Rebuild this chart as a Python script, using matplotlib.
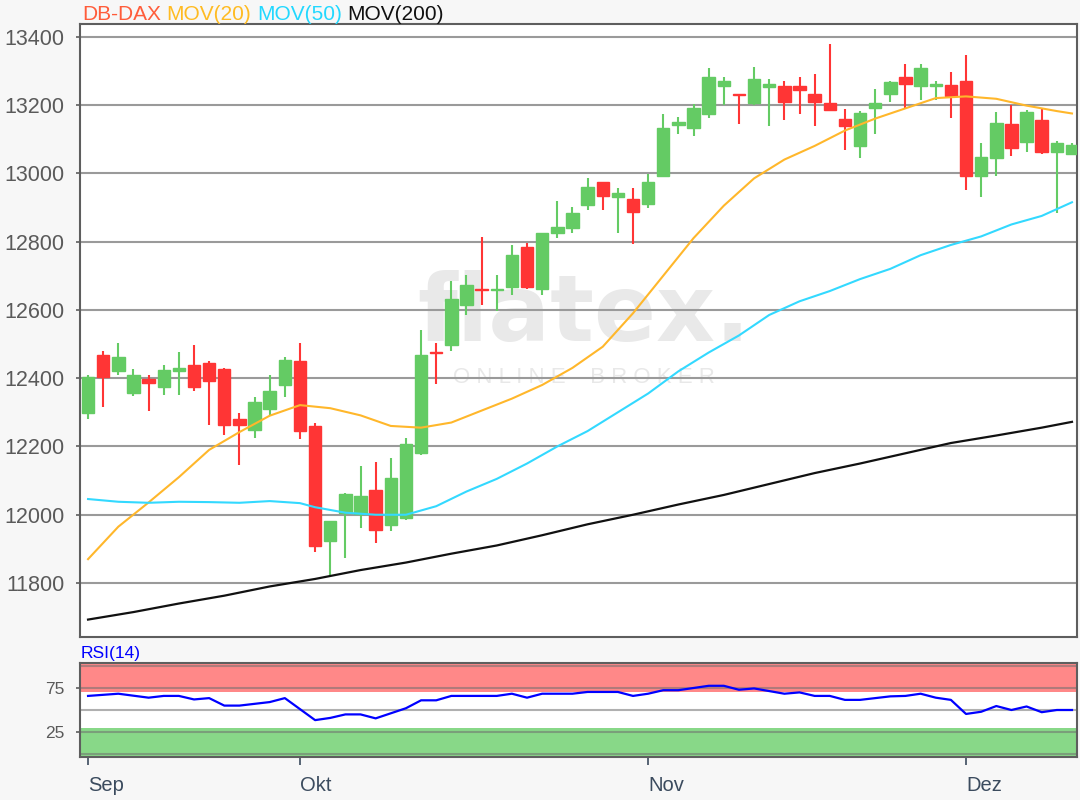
import matplotlib

matplotlib.use("Agg")
import matplotlib.pyplot as plt  # noqa: E402

plt.rcParams["font.family"] = ["Liberation Sans", "DejaVu Sans"]

# ---------------------------------------------------------------------------
# Data (one entry per trading day)
# ---------------------------------------------------------------------------

opens = [
    12299, 12467, 12422, 12356, 12397, 12375, 12422, 12438, 12444, 12426,
    12279, 12248, 12309, 12380, 12449, 12261, 11922, 12005, 12003, 12072,
    11969, 11991, 12180, 12478, 12497, 12615, 12660, 12659, 12668, 12784,
    12662, 12826, 12840, 12908, 12973, 12929, 12926, 12909, 12991, 13141,
    13132, 13174, 13256, 13231, 13207, 13253, 13254, 13254, 13231, 13207,
    13160, 13079, 13192, 13233, 13283, 13256, 13256, 13259, 13270, 12992,
    13044, 13143, 13092, 13155, 13063, 13057,
]
highs = [
    12408, 12479, 12503, 12426, 12408, 12439, 12478, 12498, 12449, 12431,
    12297, 12346, 12408, 12462, 12503, 12268, 11983, 12065, 12143, 12155,
    12167, 12226, 12542, 12502, 12683, 12703, 12814, 12703, 12791, 12796,
    12825, 12920, 12902, 12985, 12973, 12958, 12958, 12997, 13173, 13166,
    13202, 13307, 13283, 13231, 13312, 13277, 13271, 13283, 13290, 13378,
    13189, 13182, 13248, 13271, 13320, 13320, 13270, 13295, 13346, 13090,
    13178, 13200, 13184, 13187, 13095, 13090,
]
lows = [
    12279, 12315, 12410, 12349, 12304, 12351, 12351, 12362, 12263, 12233,
    12145, 12224, 12292, 12344, 12221, 11892, 11819, 11874, 11962, 11917,
    11952, 11985, 12175, 12382, 12480, 12585, 12615, 12597, 12644, 12661,
    12644, 12809, 12826, 12892, 12892, 12826, 12794, 12898, 12991, 13116,
    13109, 13163, 13200, 13145, 13200, 13138, 13155, 13173, 13138, 13185,
    13068, 13045, 13116, 13209, 13190, 13214, 13214, 13163, 12952, 12929,
    12992, 13051, 13063, 13056, 12884, 13057,
]
closes = [
    12402, 12403, 12461, 12408, 12385, 12425, 12431, 12375, 12392, 12263,
    12263, 12331, 12361, 12454, 12245, 11908, 11983, 12062, 12054, 11956,
    12108, 12207, 12467, 12475, 12631, 12672, 12658, 12661, 12760, 12666,
    12825, 12843, 12884, 12961, 12934, 12943, 12887, 12973, 13132, 13150,
    13190, 13283, 13270, 13228, 13277, 13261, 13210, 13245, 13210, 13185,
    13138, 13177, 13207, 13266, 13261, 13307, 13261, 13226, 12992, 13048,
    13148, 13073, 13178, 13062, 13090, 13083,
]

ma20_idx = [0, 2, 4, 6, 8, 10, 12, 14, 16, 18, 20, 22, 24, 26, 28, 30, 32,
            34, 36, 38, 40, 42, 44, 46, 48, 50, 52, 54, 56, 58, 60, 62, 64, 65]
ma20 = [11870, 11965, 12036, 12110, 12190, 12242, 12290, 12321, 12312, 12291,
        12260, 12255, 12270, 12305, 12340, 12380, 12430, 12492, 12590, 12700,
        12810, 12905, 12985, 13040, 13080, 13125, 13160, 13190, 13220, 13225,
        13218, 13198, 13182, 13175]

ma50_idx = [0, 2, 4, 6, 8, 10, 12, 14, 15, 17, 19, 21, 23, 25, 27, 29, 31,
            33, 35, 37, 39, 41, 43, 45, 47, 49, 51, 53, 55, 57, 59, 61, 63, 65]
ma50 = [12046, 12038, 12035, 12038, 12037, 12035, 12040, 12034, 12022, 12006,
        12000, 12000, 12025, 12068, 12105, 12150, 12200, 12245, 12300, 12355,
        12420, 12475, 12525, 12585, 12625, 12655, 12690, 12720, 12760, 12790,
        12815, 12850, 12875, 12915]

ma200_idx = [0, 3, 6, 9, 12, 15, 18, 21, 24, 27, 30, 33, 36, 39, 42, 45, 48,
             51, 54, 57, 60, 63, 65]
ma200 = [11693, 11715, 11740, 11763, 11790, 11812, 11838, 11860, 11886, 11910,
         11940, 11972, 12000, 12030, 12058, 12090, 12122, 12150, 12180, 12210,
         12232, 12255, 12272]

rsi_idx = [0, 2, 4, 5, 6, 7, 8, 9, 10, 11, 12, 13, 15, 16, 17, 18, 19, 21,
           22, 23, 24, 27, 28, 29, 30, 32, 33, 35, 36, 37, 38, 39, 41, 42, 43,
           44, 46, 47, 48, 49, 50, 51, 53, 54, 55, 56, 57, 58, 59, 60, 61, 62,
           63, 64, 65]
rsi = [66, 68.5, 64, 66, 66, 62, 63.5, 55, 55, 57, 59, 63.5, 38.5, 41, 45, 45,
       40.5, 52, 61, 61, 66, 66, 68.5, 64, 68.5, 68.5, 70.5, 70.5, 66, 68.5,
       72.5, 72.5, 77.5, 77.5, 73, 74.5, 68.5, 70, 66, 66, 61.5, 61.5, 65.5,
       66, 68.5, 64, 61.5, 45.5, 48, 54.5, 50, 54, 47.5, 50, 50]

month_pos = [0, 14, 37, 58]
month_labels = ["Sep", "Okt", "Nov", "Dez"]
price_ticks = [11800, 12000, 12200, 12400, 12600, 12800, 13000, 13200, 13400]

header = [("DB-DAX", "#ff5c3a"), ("MOV(20)", "#ffbb22"),
          ("MOV(50)", "#22d8ff"), ("MOV(200)", "#111111")]

UP = "#64cb64"
DOWN = "#ff3535"
GRID = "#9a9a9a"
SPINE = "#5e5e5e"

fig = plt.figure(figsize=(10.8, 8.0), dpi=100, facecolor="#f7f7f7")
ax = fig.add_axes([0.0741, 0.20375, 0.9231, 0.76625])
ax_rsi = fig.add_axes([0.0741, 0.05375, 0.9231, 0.1175], sharex=ax)

# ---------------------------------------------------------------------------
# Price panel
# ---------------------------------------------------------------------------

ax.set_facecolor("white")
ax.set_ylim(11642, 13437)
ax.set_xlim(-0.53, 65.33)
ax.set_yticks(price_ticks)
ax.grid(axis="y", color=GRID, linewidth=1.5, zorder=1)
ax.set_axisbelow(True)

# watermark
ax.text(0.505, 0.483, "flatex.", transform=ax.transAxes, ha="center",
        va="baseline", fontsize=66, fontweight="bold", color="#e9e9e9",
        family="DejaVu Sans", zorder=0)
ax.text(0.505, 0.423, "O N L I N E    B R O K E R", transform=ax.transAxes,
        ha="center", va="center", fontsize=16, color="#e8e8e8", zorder=0)

xs = list(range(len(opens)))
colors = [UP if c >= o else DOWN for o, c in zip(opens, closes)]
ax.vlines(xs, lows, highs, colors=colors, linewidth=1.5, zorder=3)
bottoms = [min(o, c) for o, c in zip(opens, closes)]
heights = [abs(c - o) for o, c in zip(opens, closes)]
ax.bar(xs, heights, bottom=bottoms, width=0.82, color=colors,
       edgecolor=colors, linewidth=1.0, zorder=4)

ax.plot(ma20_idx, ma20, color="#ffb72b", linewidth=1.5, zorder=5)
ax.plot(ma50_idx, ma50, color="#33d9ff", linewidth=1.5, zorder=5)
ax.plot(ma200_idx, ma200, color="#111111", linewidth=1.6, zorder=5)

for sp in ax.spines.values():
    sp.set_color(SPINE)
    sp.set_linewidth(1.5)
ax.tick_params(axis="y", length=3, width=1.2, color=SPINE, pad=8,
               labelsize=15.5, labelcolor="#5a5a5a")
ax.tick_params(axis="x", bottom=False, labelbottom=False)

# coloured header, each piece chained to the previous one
prev = fig.text(0.076, 0.9825, header[0][0], color=header[0][1], fontsize=15,
                va="center", ha="left")
for label, col in header[1:]:
    prev = ax.annotate(label, xy=(1, 0.5), xycoords=prev, xytext=(4, 0),
                       textcoords="offset points", color=col, fontsize=15,
                       va="center", ha="left", annotation_clip=False)

# ---------------------------------------------------------------------------
# RSI panel
# ---------------------------------------------------------------------------

ax_rsi.set_facecolor("white")
ax_rsi.set_ylim(-3.4, 103.4)
ax_rsi.axhspan(70, 103.4, color="#ff8888", zorder=0, linewidth=0)
ax_rsi.axhspan(-3.4, 30, color="#88d888", zorder=0, linewidth=0)
for lvl in [0, 25, 50, 75, 100]:
    ax_rsi.axhline(lvl, color="#707070", alpha=0.55, linewidth=1.5, zorder=1)
ax_rsi.plot(rsi_idx, rsi, color="#0000ff", linewidth=1.6, zorder=3)
ax_rsi.set_yticks([25, 75])
ax_rsi.tick_params(axis="y", length=3, width=1.2, color=SPINE, pad=8,
                   labelsize=12.5, labelcolor="#5a5a5a")
ax_rsi.set_xticks(month_pos)
ax_rsi.set_xticklabels(month_labels, ha="left")
ax_rsi.tick_params(axis="x", length=6, width=1.2, color="#3b4b5e", pad=8,
                   labelsize=14.5, labelcolor="#3b4b5e")
for sp in ax_rsi.spines.values():
    sp.set_color(SPINE)
    sp.set_linewidth(1.5)
fig.text(0.075, 0.183, "RSI(14)", color="#0000ff", fontsize=12.5,
         va="center", ha="left")

fig.savefig("out.png", dpi=100, facecolor=fig.get_facecolor())
